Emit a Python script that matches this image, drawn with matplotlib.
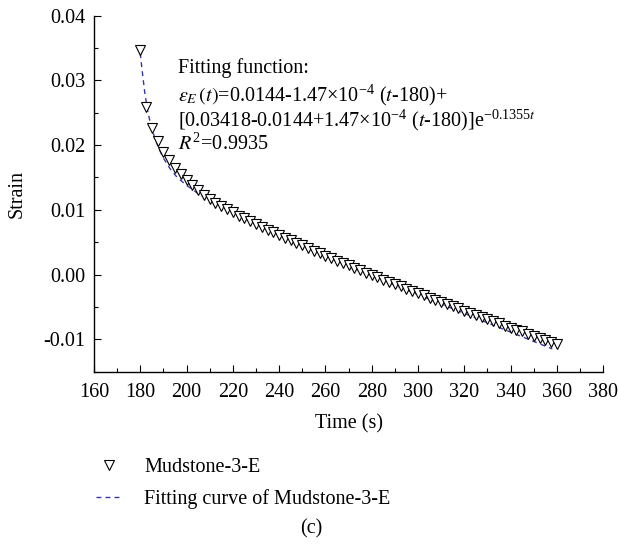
import numpy as np
import matplotlib
matplotlib.use("Agg")
import matplotlib.pyplot as plt
from matplotlib.ticker import MultipleLocator
from matplotlib.lines import Line2D

plt.rcParams["font.family"] = ["Liberation Serif", "DejaVu Serif"]
plt.rcParams["mathtext.fontset"] = "stix"

# measured strain (Mudstone-3-E)
time_s = np.arange(180, 360.01, 2.5)
strain = [
    0.0347, 0.0259, 0.0226, 0.0206, 0.0190, 0.0177, 0.0165, 0.0155, 0.0146,
    0.0138, 0.0130, 0.0123, 0.0117, 0.0111, 0.0106, 0.0101, 0.0096, 0.0091,
    0.0087, 0.0082, 0.0078, 0.0073, 0.0069, 0.0065, 0.0061, 0.0057, 0.0053,
    0.0049, 0.0045, 0.0041, 0.0037, 0.0033, 0.0029, 0.0025, 0.0021, 0.0018,
    0.0014, 0.0010, 0.0007, 0.0003, -0.0001, -0.0004, -0.0008, -0.0011,
    -0.0015, -0.0018, -0.0022, -0.0025, -0.0029, -0.0032, -0.0036, -0.0039,
    -0.0042, -0.0046, -0.0049, -0.0052, -0.0056, -0.0059, -0.0062, -0.0066,
    -0.0069, -0.0072, -0.0075, -0.0079, -0.0082, -0.0085, -0.0088, -0.0092,
    -0.0095, -0.0098, -0.0101, -0.0104, -0.0108,
]

# fitted curve
fit_t = [180, 181, 182, 183, 184, 186, 188, 190, 193, 196, 200, 205, 210,
         220, 240, 260, 280, 300, 320, 340, 358]
fit_strain = [0.0342, 0.0310, 0.0280, 0.0258, 0.0240, 0.0214, 0.0195, 0.0180,
              0.0163, 0.0150, 0.0138, 0.0125, 0.0115, 0.0097, 0.0062, 0.0029,
              -0.0002, -0.0031, -0.0060, -0.0089, -0.0115]

fs = 14.5
blue = "#3535a5"
dash = (0, (3.5, 3))

fig = plt.figure(figsize=(6.18, 5.44), dpi=100)
ax = fig.add_axes([0.152, 0.317, 0.824, 0.654])

ax.plot(fit_t, fit_strain, linestyle=dash, color=blue, lw=1.0, zorder=2)
ax.plot(time_s, strain, linestyle="none", marker="v", markersize=6.5,
        markerfacecolor="white", markeredgecolor="black", markeredgewidth=0.8, zorder=3)

ax.set_xlim(160, 380)
ax.set_ylim(-0.015, 0.04)
ax.xaxis.set_major_locator(MultipleLocator(20))
ax.xaxis.set_minor_locator(MultipleLocator(10))
ax.yaxis.set_minor_locator(MultipleLocator(0.005))
ax.set_yticks([-0.01, 0.0, 0.01, 0.02, 0.03, 0.04])
ax.set_yticklabels(["-0.01", "0.00", "0.01", "0.02", "0.03", "0.04"])
ax.tick_params(which="both", direction="in", labelsize=fs)
ax.tick_params(which="major", length=5, width=0.8)
ax.tick_params(which="minor", length=3, width=0.8)
ax.tick_params(axis="x", which="major", pad=8)
ax.tick_params(axis="y", which="major", pad=6)
for side in ["top", "right"]:
    ax.spines[side].set_visible(False)
for side in ["left", "bottom"]:
    ax.spines[side].set_linewidth(1.0)

ax.set_xlabel("Time (s)", fontsize=fs, labelpad=9)
ax.set_ylabel("Strain", fontsize=fs, labelpad=12)

tx = 0.165
ax.text(tx, 0.853, "Fitting function:", transform=ax.transAxes, fontsize=fs, va="center")
ax.text(tx, 0.777, r"$\varepsilon_E\,(t)$=0.0144-1.47×10$^{\mathregular{-4}}$ ($t$-180)+",
        transform=ax.transAxes, fontsize=fs, va="center")
ax.text(tx, 0.706, r"[0.03418-0.0144+1.47×10$^{\mathregular{-4}}$ ($t$-180)]e$^{\mathregular{-0.1355}t}$",
        transform=ax.transAxes, fontsize=fs, va="center")
ax.text(tx, 0.640, r"$R^{\mathregular{2}}$=0.9935", transform=ax.transAxes, fontsize=fs, va="center")

handles = [
    Line2D([], [], linestyle="none", marker="v", markersize=6.5, markerfacecolor="white",
           markeredgecolor="black", markeredgewidth=0.8),
    Line2D([], [], linestyle=dash, color=blue, lw=1.0),
]
fig.legend(handles, ["Mudstone-3-E", "Fitting curve of Mudstone-3-E"],
           loc="upper left", bbox_to_anchor=(0.155, 0.158), frameon=False,
           borderpad=0, borderaxespad=0,
           fontsize=fs, handlelength=1.35, handletextpad=1.05, labelspacing=0.6)

fig.text(0.503, 0.027, "(c)", ha="center", va="center", fontsize=fs)

plt.savefig("out.png", dpi=100)
